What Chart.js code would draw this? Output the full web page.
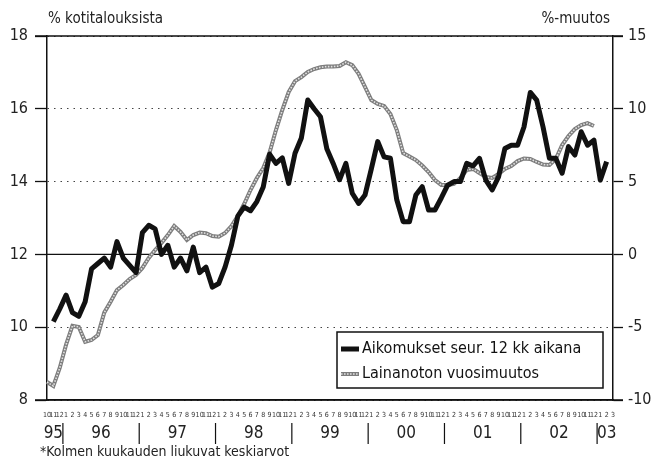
<!DOCTYPE html>
<html>
<head>
<meta charset="utf-8">
<script src="https://cdn.jsdelivr.net/npm/chart.js@4/dist/chart.umd.min.js"></script>
<style>
  html, body { margin: 0; padding: 0; background: #fff; }
</style>
</head>
<body>
<canvas id="lainaChart" width="663" height="460"></canvas>
<script>
// month tick labels, Oct 1995 .. Mar 2003
const kuukaudet = ['10','11','12',
  '1','2','3','4','5','6','7','8','9','10','11','12',
  '1','2','3','4','5','6','7','8','9','10','11','12',
  '1','2','3','4','5','6','7','8','9','10','11','12',
  '1','2','3','4','5','6','7','8','9','10','11','12',
  '1','2','3','4','5','6','7','8','9','10','11','12',
  '1','2','3','4','5','6','7','8','9','10','11','12',
  '1','2','3','4','5','6','7','8','9','10','11','12',
  '1','2','3']
const vuodet = ['95','96','97','98','99','00','01','02','03']

// % of households planning to borrow in next 12 months (left axis)
const aikomukset = [null, 10.15, 10.5,
  10.88, 10.4, 10.3, 10.7, 11.6, 11.75, 11.9, 11.65, 12.35, 11.9, 11.7, 11.5,
  12.6, 12.8, 12.7, 12.0, 12.25, 11.65, 11.9, 11.55, 12.2, 11.5, 11.65, 11.1,
  11.2, 11.65, 12.25, 13.05, 13.3, 13.2, 13.45, 13.85, 14.75, 14.5, 14.65, 13.95,
  14.78, 15.2, 16.24, 16.0, 15.78, 14.9, 14.5, 14.05, 14.5, 13.68, 13.4, 13.63,
  14.35, 15.1, 14.68, 14.64, 13.5, 12.9, 12.9, 13.63, 13.86, 13.22, 13.22, 13.55,
  13.9, 14.0, 14.0, 14.5, 14.43, 14.64, 14.04, 13.77, 14.13, 14.91, 15.0, 15.0,
  15.5, 16.45, 16.24, 15.5, 14.64, 14.64, 14.23, 14.96, 14.73, 15.37, 15.0, 15.14,
  14.04, 14.55, null]

// annual change of borrowing, % (right axis)
const lainanotto = [-8.76, -9.04, -7.8,
  -6.2, -4.9, -4.98, -6.0, -5.88, -5.54, -4.0, -3.25, -2.45, -2.1, -1.69, -1.42,
  -0.93, -0.25, 0.3, 0.78, 1.33, 1.95, 1.54, 0.99, 1.33, 1.5, 1.45, 1.26,
  1.22, 1.47, 1.95, 2.64, 3.46, 4.42, 5.25, 5.93, 7.0, 8.54, 9.92, 11.15,
  11.9, 12.18, 12.53, 12.73, 12.85, 12.9, 12.9, 12.94, 13.2, 13.0, 12.4, 11.5,
  10.6, 10.33, 10.2, 9.64, 8.54, 6.96, 6.72, 6.48, 6.1, 5.66, 5.11, 4.77,
  4.77, 4.84, 5.25, 5.8, 5.87, 5.59, 5.32, 5.25, 5.52, 5.87, 6.07, 6.41,
  6.59, 6.55, 6.35, 6.17, 6.14, 6.55, 7.51, 8.13, 8.61, 8.89, 9.02, 8.82,
  null, null, null]

const FONT = '"Liberation Sans Narrow", "DejaVu Sans Condensed", "Arial Narrow", sans-serif'

// frame, year row, legend and texts
const kehys = {
  id: 'kehys',
  beforeDatasetsDraw(chart) {
    const { ctx, chartArea: a, scales } = chart
    const y0 = scales.y.getPixelForValue(12)
    ctx.save()
    ctx.strokeStyle = '#111'
    ctx.lineWidth = 1.3
    ctx.beginPath()
    ctx.moveTo(a.left, y0)
    ctx.lineTo(a.right, y0)
    ctx.stroke()
    ctx.restore()
  },
  afterDraw(chart) {
    const { ctx, chartArea: a, scales } = chart
    const x = scales.x
    ctx.save()
    // top and bottom lines
    ctx.strokeStyle = '#111'
    ctx.lineWidth = 1.5
    ctx.beginPath()
    ctx.moveTo(a.left - 12, a.top)
    ctx.lineTo(a.right + 10, a.top)
    ctx.moveTo(a.left - 12, a.bottom)
    ctx.lineTo(a.right + 10, a.bottom)
    ctx.stroke()

    // axis titles
    ctx.fillStyle = '#222'
    ctx.textBaseline = 'alphabetic'
    ctx.font = '15px ' + FONT
    ctx.textAlign = 'left'
    ctx.fillText('% kotitalouksista', a.left + 1, 23)
    ctx.textAlign = 'right'
    ctx.fillText('%-muutos', a.right - 3, 23)

    // year labels and separators
    const alut = []
    kuukaudet.forEach((m, i) => { if (m === '1') alut.push(i) })
    ctx.lineWidth = 1.2
    ctx.beginPath()
    alut.forEach(i => {
      const px = x.getPixelForValue(i - 0.5)
      ctx.moveTo(px, a.bottom + 23)
      ctx.lineTo(px, a.bottom + 44)
    })
    ctx.stroke()
    ctx.font = '17px ' + FONT
    ctx.textAlign = 'center'
    ctx.textBaseline = 'middle'
    const rajat = [0].concat(alut).concat([kuukaudet.length])
    vuodet.forEach((v, k) => {
      const mid = (rajat[k] + rajat[k + 1] - 1) / 2
      ctx.fillText(v, x.getPixelForValue(mid), a.bottom + 34)
    })

    // footnote
    ctx.font = '14px ' + FONT
    ctx.textAlign = 'left'
    ctx.fillText('*Kolmen kuukauden liukuvat keskiarvot', 40, 452)

    // legend
    const lw = 266, lh = 56
    const lx = a.right - 10 - lw, ly = a.bottom - 12 - lh
    ctx.fillStyle = '#fff'
    ctx.fillRect(lx, ly, lw, lh)
    ctx.strokeStyle = '#111'
    ctx.lineWidth = 1.5
    ctx.strokeRect(lx, ly, lw, lh)
    const ds = chart.data.datasets
    const rivit = [ly + 17, ly + 42]
    // black sample
    ctx.strokeStyle = ds[0].borderColor
    ctx.lineWidth = 5
    ctx.beginPath(); ctx.moveTo(lx + 4, rivit[0]); ctx.lineTo(lx + 22, rivit[0]); ctx.stroke()
    // grey sample
    ctx.strokeStyle = ds[1].borderColor
    ctx.lineWidth = ds[1].borderWidth
    ctx.beginPath(); ctx.moveTo(lx + 4, rivit[1]); ctx.lineTo(lx + 22, rivit[1]); ctx.stroke()
    ctx.strokeStyle = ds[2].borderColor
    ctx.lineWidth = ds[2].borderWidth
    ctx.setLineDash(ds[2].borderDash)
    ctx.beginPath(); ctx.moveTo(lx + 4, rivit[1]); ctx.lineTo(lx + 22, rivit[1]); ctx.stroke()
    ctx.setLineDash([])
    ctx.fillStyle = '#111'
    ctx.font = '16px ' + FONT
    ctx.textAlign = 'left'
    ctx.textBaseline = 'middle'
    ctx.fillText(ds[0].label, lx + 25, rivit[0])
    ctx.fillText(ds[1].label, lx + 25, rivit[1])
    ctx.restore()
  }
}

window.addEventListener('load', function () {
  var ctxLaina = document.getElementById('lainaChart').getContext('2d')
  window.lainaChart = new Chart(ctxLaina, {
    type: 'line',
    data: {
      labels: kuukaudet,
      datasets: [
        {
          label: 'Aikomukset seur. 12 kk aikana',
          data: aikomukset,
          yAxisID: 'y',
          borderColor: '#111',
          borderWidth: 5,
          borderJoinStyle: 'round',
          pointRadius: 0,
          tension: 0,
          order: 0
        },
        {
          label: 'Lainanoton vuosimuutos',
          data: lainanotto,
          yAxisID: 'y2',
          borderColor: '#7d7d7d',
          borderWidth: 4,
          pointRadius: 0,
          tension: 0,
          order: 2
        },
        {
          // texture on the grey line
          label: 'pinta',
          data: lainanotto,
          yAxisID: 'y2',
          borderColor: '#e2e2e2',
          borderWidth: 1.6,
          borderDash: [1.6, 1.4],
          pointRadius: 0,
          tension: 0,
          order: 1
        }
      ]
    },
    options: {
      responsive: false,
      devicePixelRatio: 1,
      animation: false,
      layout: { padding: { top: 36, left: 0, right: 0, bottom: 0 } },
      plugins: {
        legend: { display: false },
        tooltip: { enabled: false }
      },
      scales: {
        x: {
          type: 'category',
          offset: false,
          grid: { display: false },
          border: { display: true, color: '#111', width: 1.5 },
          ticks: {
            autoSkip: false,
            maxRotation: 0,
            minRotation: 0,
            padding: 3,
            color: '#333',
            font: { size: 7, family: FONT }
          },
          afterFit: function (scale) { scale.height = 60 }
        },
        y: {
          position: 'left',
          min: 8,
          max: 18,
          ticks: {
            stepSize: 2,
            padding: 7,
            color: '#222',
            font: { size: 16, family: FONT }
          },
          grid: {
            color: '#444',
            lineWidth: 1,
            tickLength: 12,
            tickColor: '#111',
            tickWidth: 1.3
          },
          border: { color: '#111', width: 1.5, dash: [1.5, 5] },
          afterFit: function (scale) { scale.width = 47 }
        },
        y2: {
          position: 'right',
          min: -10,
          max: 15,
          ticks: {
            stepSize: 5,
            padding: 5,
            color: '#222',
            font: { size: 16, family: FONT }
          },
          grid: {
            drawOnChartArea: false,
            tickLength: 10,
            tickColor: '#111',
            tickWidth: 1.3
          },
          border: { color: '#111', width: 1.5 },
          afterFit: function (scale) { scale.width = 50 }
        }
      }
    },
    plugins: [kehys]
  })

  return window.lainaChart
})
</script>
</body>
</html>
